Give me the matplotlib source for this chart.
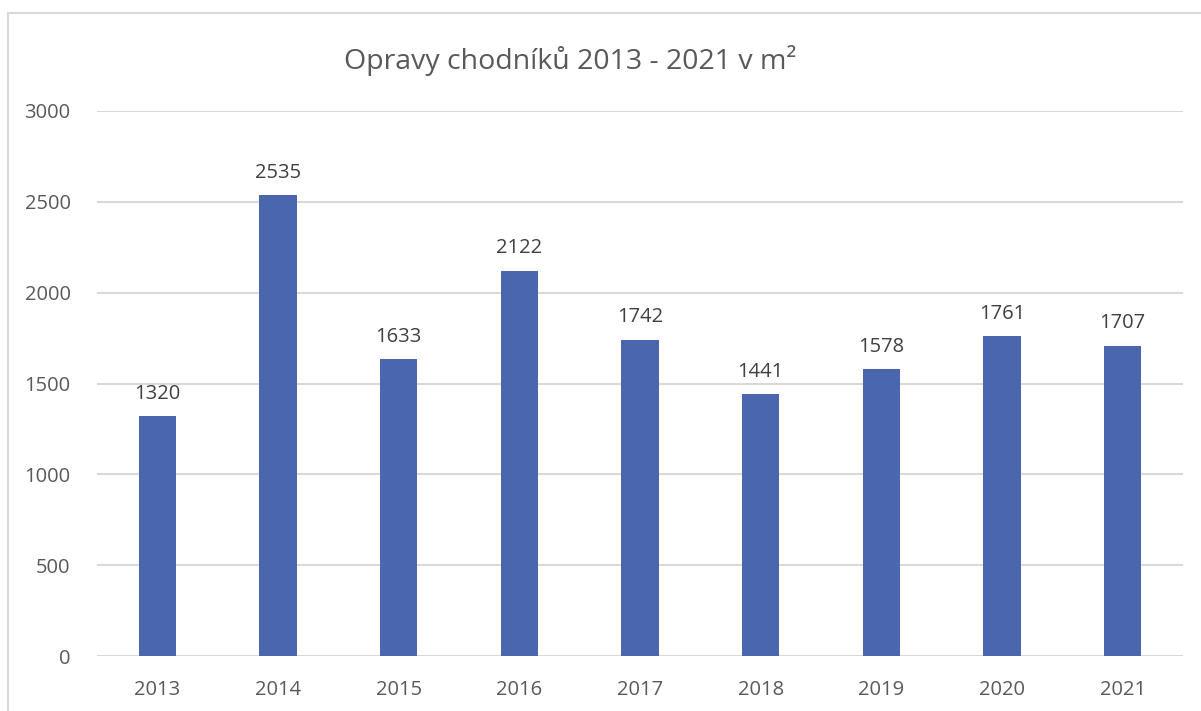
import matplotlib.pyplot as plt
import matplotlib
from matplotlib.patches import Rectangle

matplotlib.rcParams['font.family'] = ['Open Sans', 'DejaVu Sans']

# data
years = ['2013', '2014', '2015', '2016', '2017', '2018', '2019', '2020', '2021']
areas = [1320, 2535, 1633, 2122, 1742, 1441, 1578, 1761, 1707]

W, H = 1201, 711
fig = plt.figure(figsize=(W / 100, H / 100), dpi=100)

# axes in pixel coords: x 97..1183, y 111..656
ax = fig.add_axes([97 / W, 1 - 656 / H, (1183 - 97) / W, (656 - 111) / H])

text_col = '#595959'
label_col = '#404040'
grid_col = '#d9d9d9'
bar_col = '#4a66ac'

x = range(len(years))
bars = ax.bar(x, areas, width=0.31, color=bar_col, zorder=3)
ax.set_xlim(-0.5, len(years) - 0.5)
ax.set_ylim(0, 3000)
ax.set_yticks(range(0, 3001, 500))
ax.set_xticks(list(x))
ax.set_xticklabels(years)

for s in ax.spines.values():
    s.set_visible(False)
ax.grid(axis='y', color=grid_col, linewidth=1.5, zorder=0)
ax.tick_params(length=0, labelsize=14.5, colors=text_col)
ax.tick_params(axis='y', pad=19)
ax.tick_params(axis='x', pad=17)

# data labels
for b, v in zip(bars, areas):
    ax.annotate(str(v), (b.get_x() + b.get_width() / 2, v), xytext=(0, 9),
                textcoords='offset points', ha='center', va='bottom',
                fontsize=14.5, color=label_col)

fig.text(570 / W, 1 - 60 / H, 'Opravy chodníků 2013 - 2021 v m²', ha='center',
         va='center', fontsize=20.5, color=text_col)

# chart border
fig.patches.append(Rectangle((8 / W, -0.1), 1.2, 1 - 12.5 / H + 0.1,
                             transform=fig.transFigure, fill=False,
                             edgecolor='#d9d9d9', linewidth=1.5))

fig.savefig('out.png', dpi=100)
